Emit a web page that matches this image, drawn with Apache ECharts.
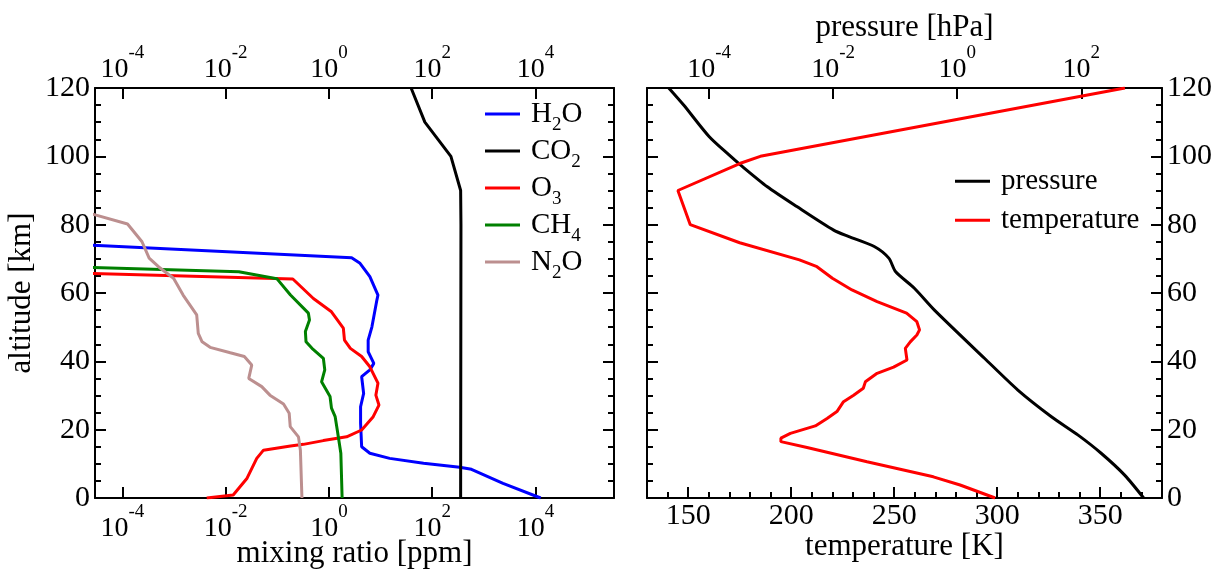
<!DOCTYPE html>
<html>
<head>
<meta charset="utf-8">
<script src="https://cdn.jsdelivr.net/npm/echarts@6/dist/echarts.min.js"></script>
<style>
  html, body { margin: 0; padding: 0; background: #fff; }
  #chart { width: 1220px; height: 573px; }
</style>
</head>
<body>
<div id="chart"></div>
<script>
// ---------- data ----------
// Left panel: mixing ratio [ppm] vs altitude [km]
const h2oAlt = [74.0, 70.3, 68.7, 64.8, 59.4, 58.0, 50.1, 46.2, 42.8, 39.4, 37.5, 35.5, 30.6, 26.7, 21.9, 15.0, 13.1, 11.6, 10.2, 9.0, 8.4, 4.3, 0];
const h2oPpm = [2.5e-5, 2.75, 4.0, 6.2, 8.9, 8.5, 6.8, 5.75, 5.75, 7.4, 6.2, 4.3, 4.7, 4.1, 4.1, 4.3, 6.2, 15, 68, 340, 575, 2350, 12600];

const co2Alt = [120, 110, 100, 90, 80, 0];
const co2Ppm = [39, 72, 230, 355, 360, 355];

const o3Alt = [65.7, 64.1, 58.4, 54.5, 49.7, 46.2, 43.8, 41.4, 38.4, 33.6, 30.1, 27.2, 23.8, 19.9, 17.9, 16.8, 15.7, 15.2, 14.0, 11.6, 5.8, 0.9, 0];
const o3Ppm = [2.5e-5, 0.20, 0.50, 1.12, 1.9, 2.0, 2.6, 4.3, 6.2, 8.9, 8.1, 9.3, 7.2, 4.3, 2.2, 0.78, 0.32, 0.18, 0.054, 0.040, 0.026, 0.014, 0.0043];

const ch4Alt = [67.5, 66.2, 64.2, 59.4, 54.1, 52.1, 48.7, 45.7, 43.8, 40.9, 37.5, 34.0, 29.7, 26.3, 23.8, 19.9, 13.1, 0];
const ch4Ppm = [2.5e-5, 0.018, 0.098, 0.18, 0.40, 0.42, 0.35, 0.36, 0.47, 0.78, 0.83, 0.72, 1.05, 1.12, 1.32, 1.45, 1.7, 1.8];

const n2oAlt = [83.2, 80.2, 75.0, 70.2, 67.7, 64.3, 59.4, 53.6, 48.2, 45.7, 44.1, 42.5, 41.4, 38.9, 35.0, 32.6, 30.1, 27.5, 24.8, 20.9, 17.9, 14.0, 0];
const n2oPpm = [2.5e-5, 1.26e-4, 2.4e-4, 3.3e-4, 5.0e-4, 9.8e-4, 1.5e-3, 2.75e-3, 2.95e-3, 3.5e-3, 5.0e-3, 0.0123, 0.023, 0.032, 0.028, 0.050, 0.072, 0.132, 0.17, 0.178, 0.257, 0.28, 0.30];

// Right panel: pressure [hPa] and temperature [K] vs altitude [km]
const presAlt = [120, 115, 105.8, 100.4, 97.5, 91.1, 85.3, 78.4, 76.5, 73.6, 70.2, 66.2, 61.4, 55.0, 40.9, 31.6, 23.8, 18.4, 13.1, 6.7, 0];
const presHpa = [2.24e-5, 3.9e-5, 1.0e-4, 2.1e-4, 3.2e-4, 8.7e-4, 2.6e-3, 0.0102, 0.018, 0.046, 0.079, 0.102, 0.204, 0.43, 2.75, 9.5, 33, 89, 209, 500, 1013];

const tempAlt = [120, 100, 97.9, 90, 80, 74.7, 69.7, 67.7, 64.3, 60.9, 57.5, 54.1, 51.6, 49.2, 47.7, 45.7, 43.8, 40.4, 38.3, 36.5, 34.0, 32.1, 30.1, 28.2, 25.3, 23.3, 21.1, 18.9, 17.5, 16.5, 14.8, 10.6, 6.2, 3.8, 0];
const tempK  = [362, 185, 175, 145, 151, 175, 204, 212.5, 220, 229.5, 241.7, 256, 261, 262.3, 261, 257.8, 255.4, 256.2, 249.7, 241.7, 236, 235, 230.3, 225.4, 222.2, 217.4, 211.7, 199.6, 195, 195, 207.7, 236.8, 269, 282, 299];

// axis ranges (log axes are drawn on log10 of the values)
const mixLogRange = [-4.53, 5.52];
const presLogRange = [-5, Math.log10(2000)];
const tempRange = [130, 380];
const altRange = [0, 120];

// legend entries
const gasNames = ['H2O', 'CO2', 'O3', 'CH4', 'N2O'];
const gasLabels = { H2O: '{f|H}{u|2}{b|O}', CO2: '{f|CO}{u|2}', O3: '{f|O}{u|3}', CH4: '{f|CH}{u|4}', N2O: '{f|N}{u|2}{b|O}' };
const atmNames = ['pressure', 'temperature'];

// ---------- helpers ----------
const FONT = 'Liberation Serif';
const toLogPts = (vals, alts) => vals.map((v, i) => [Math.log10(v), alts[i]]);
const toPts = (vals, alts) => vals.map((v, i) => [v, alts[i]]);

function powLabel(v) {
  const n = Math.round(v);
  if (Math.abs(v - n) > 1e-6 || n % 2 !== 0) return '';
  return '{b|10}{s|' + n + '}';
}
const powRich = {
  b: { fontFamily: FONT, fontSize: 28, color: '#000' },
  s: { fontFamily: FONT, fontSize: 19, color: '#000', padding: [0, 0, 32, 0] }
};

const lineStyleAxis = { color: '#000', width: 2 };
function frameAxis(extra) {
  return Object.assign({
    type: 'value',
    nameMoveOverlap: false,
    axisLine: { show: true, onZero: false, lineStyle: lineStyleAxis },
    axisTick: { show: true, inside: true, length: 11, lineStyle: lineStyleAxis },
    splitLine: { show: false },
    axisLabel: { show: false }
  }, extra);
}

const yMinor = { show: true, splitNumber: 4, length: 6, lineStyle: lineStyleAxis };
const yLabel = { show: true, fontFamily: FONT, fontSize: 30, color: '#000', margin: 5 };
const titleStyle = { fontFamily: FONT, fontSize: 31, color: '#000' };

const gasRich = {
  f: { fontFamily: FONT, fontSize: 29, color: '#000', padding: [0, 0, 0, 6] },
  b: { fontFamily: FONT, fontSize: 29, color: '#000' },
  u: { fontFamily: FONT, fontSize: 19, lineHeight: 19, color: '#000', padding: [22, 0, 0, 0] }
};
const gasLegendCenters = [114, 151, 188, 225, 262];
const gasLegends = gasNames.map((name, i) => ({
  orient: 'vertical', left: 485, top: gasLegendCenters[i] - 20.5, padding: 0,
  icon: 'rect', itemWidth: 35, itemHeight: 3,
  data: [name],
  formatter: n => gasLabels[n],
  textStyle: { color: '#000', fontFamily: FONT, fontSize: 29, rich: gasRich }
}));

const chart = echarts.init(document.getElementById('chart'), null, { renderer: 'canvas' });

const option = {
  animation: false,
  backgroundColor: '#fff',
  textStyle: { fontFamily: FONT },
  grid: [
    { left: 95, top: 88, width: 519, height: 410, containLabel: false, outerBoundsMode: 'none' },
    { left: 647, top: 88, width: 515, height: 410, containLabel: false, outerBoundsMode: 'none' }
  ],
  xAxis: [
    frameAxis({ gridIndex: 0, position: 'bottom', min: mixLogRange[0], max: mixLogRange[1], splitNumber: 5,
      axisLabel: { show: true, margin: 5, formatter: powLabel, rich: powRich },
      name: 'mixing ratio [ppm]', nameLocation: 'middle', nameGap: 40, nameTextStyle: titleStyle }),
    frameAxis({ gridIndex: 0, position: 'top', min: mixLogRange[0], max: mixLogRange[1], splitNumber: 5,
      axisLabel: { show: true, margin: -7, formatter: powLabel, rich: powRich } }),
    frameAxis({ gridIndex: 1, position: 'bottom', min: tempRange[0], max: tempRange[1], splitNumber: 5,
      minorTick: { show: true, splitNumber: 5, length: 6, lineStyle: lineStyleAxis },
      axisLabel: { show: true, fontFamily: FONT, fontSize: 30, color: '#000', margin: 3,
        formatter: v => (v % 50 === 0 ? String(v) : '') },
      name: 'temperature [K]', nameLocation: 'middle', nameGap: 33, nameTextStyle: titleStyle }),
    frameAxis({ gridIndex: 1, position: 'top', min: presLogRange[0], max: presLogRange[1], splitNumber: 5,
      axisLabel: { show: true, margin: -7, formatter: powLabel, rich: powRich },
      name: 'pressure [hPa]', nameLocation: 'middle', nameGap: 45, nameTextStyle: titleStyle })
  ],
  yAxis: [
    frameAxis({ gridIndex: 0, position: 'left', min: altRange[0], max: altRange[1], interval: 20,
      minorTick: yMinor, axisLabel: yLabel,
      name: 'altitude [km]', nameLocation: 'middle', nameGap: 58, nameTextStyle: titleStyle }),
    frameAxis({ gridIndex: 0, position: 'right', min: altRange[0], max: altRange[1], interval: 20,
      minorTick: yMinor }),
    frameAxis({ gridIndex: 1, position: 'left', min: altRange[0], max: altRange[1], interval: 20,
      minorTick: yMinor }),
    frameAxis({ gridIndex: 1, position: 'right', min: altRange[0], max: altRange[1], interval: 20,
      minorTick: yMinor, axisLabel: yLabel })
  ],
  legend: gasLegends.concat([
    {
      orient: 'vertical', left: 955, top: 166.7, itemGap: 10, padding: 0,
      icon: 'rect', itemWidth: 35, itemHeight: 3,
      data: atmNames,
      formatter: '{f|{name}}',
      textStyle: {
        color: '#000', fontFamily: FONT, fontSize: 29,
        rich: { f: { fontFamily: FONT, fontSize: 29, lineHeight: 30, color: '#000', padding: [0, 0, 0, 6] } }
      }
    }
  ]),
  series: [
    { name: 'H2O', type: 'line', xAxisIndex: 0, yAxisIndex: 0, data: toLogPts(h2oPpm, h2oAlt),
      symbol: 'none', clip: true, color: '#0000ff', lineStyle: { width: 3, color: '#0000ff' } },
    { name: 'CO2', type: 'line', xAxisIndex: 0, yAxisIndex: 0, data: toLogPts(co2Ppm, co2Alt),
      symbol: 'none', clip: true, color: '#000000', lineStyle: { width: 3, color: '#000000' } },
    { name: 'O3', type: 'line', xAxisIndex: 0, yAxisIndex: 0, data: toLogPts(o3Ppm, o3Alt),
      symbol: 'none', clip: true, color: '#ff0000', lineStyle: { width: 3, color: '#ff0000' } },
    { name: 'CH4', type: 'line', xAxisIndex: 0, yAxisIndex: 0, data: toLogPts(ch4Ppm, ch4Alt),
      symbol: 'none', clip: true, color: '#008000', lineStyle: { width: 3, color: '#008000' } },
    { name: 'N2O', type: 'line', xAxisIndex: 0, yAxisIndex: 0, data: toLogPts(n2oPpm, n2oAlt),
      symbol: 'none', clip: true, color: '#bc8f8f', lineStyle: { width: 3, color: '#bc8f8f' } },
    { name: 'pressure', type: 'line', xAxisIndex: 3, yAxisIndex: 2, data: toLogPts(presHpa, presAlt),
      symbol: 'none', clip: true, smooth: 0.25, color: '#000000', lineStyle: { width: 3, color: '#000000' } },
    { name: 'temperature', type: 'line', xAxisIndex: 2, yAxisIndex: 2, data: toPts(tempK, tempAlt),
      symbol: 'none', clip: true, color: '#ff0000', lineStyle: { width: 3, color: '#ff0000' } }
  ]
};
chart.setOption(option);
</script>
</body>
</html>
